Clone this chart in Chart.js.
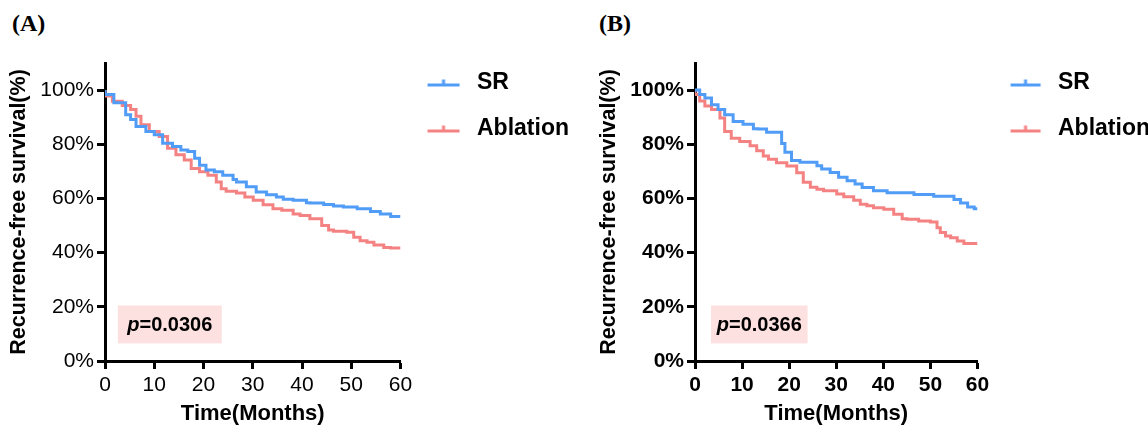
<!DOCTYPE html>
<html>
<head>
<meta charset="utf-8">
<script src="https://cdn.jsdelivr.net/npm/chart.js@4/dist/chart.umd.min.js"></script>
<style>
    body { margin: 0; background: #fff; }
    #wrap { position: relative; width: 1148px; height: 432px; overflow: hidden; }
    .panel { position: absolute; top: 0; height: 432px; }
    .tag { position: absolute; top: 10px; font: bold 24px "Liberation Serif", "Times New Roman", serif; color: #000; }
</style>
</head>
<body>
<div id="wrap">
    <div class="tag" style="left:12px">(A)</div>
    <div class="tag" style="left:599px">(B)</div>
    <div class="panel" style="left:0;width:590px"><canvas id="chartA" width="590" height="432"></canvas></div>
    <div class="panel" style="left:590px;width:570px"><canvas id="chartB" width="570" height="432"></canvas></div>
</div>
<script>
// Panel A - months / survival %
const aSrTime = [0, 1.8, 4.2, 5.2, 6.3, 8.3, 10, 11.7, 13.7, 15.4, 16.8, 18.2, 19.2, 20.5, 22.2, 23.9, 26, 26.7, 28.7, 30.7, 32.8, 34.8, 36.2, 38.2, 40.9, 41.6, 44.4, 46.4, 48.4, 51.2, 53.9, 55.9, 58, 60];
const aSrSurv = [100, 98.4, 95.3, 90.9, 89.1, 86.6, 84.7, 83.5, 80.4, 79.2, 77.9, 77.3, 74.8, 72.3, 70.5, 69.9, 68.6, 67, 66.1, 64.3, 62.4, 61.4, 60.5, 59.7, 59.3, 58.4, 58.3, 57.8, 57.2, 56.8, 56.2, 55.2, 54.3, 53.3];
const aAblTime = [0, 1.5, 3.5, 5.2, 6.3, 7.3, 9, 11, 12.7, 14.4, 16.1, 17.5, 19.2, 20.9, 22.6, 23.6, 24.6, 26.7, 28.4, 30.1, 32.1, 34.1, 35.9, 38.2, 39.6, 41.6, 44, 45.4, 46.4, 49.1, 50.5, 51.8, 53.2, 54.6, 56.6, 58, 60];
const aAblSurv = [100, 97.8, 95.9, 94.3, 92.8, 90.3, 87.2, 84.7, 82.9, 78.5, 76.1, 74.2, 71.1, 69.9, 68.6, 66.1, 63.6, 62.7, 62, 60.5, 59.3, 57.7, 56.2, 55.6, 54.3, 53.7, 52.5, 50, 48.4, 47.9, 47.5, 45.7, 44.4, 43.8, 42.8, 41.9, 41.7];

// Panel B
const bSrTime = [0, 1, 2.1, 3.5, 4.9, 6.3, 8.1, 10.2, 12.4, 13.4, 15.2, 16.3, 18.4, 19.1, 20.5, 22.3, 25.9, 26.9, 28.7, 30.5, 32.3, 34, 35.5, 37.9, 40.8, 46.5, 50.7, 55, 56.4, 57.9, 59.3, 60];
const bSrSurv = [100, 100, 98.4, 97.1, 94.6, 92.8, 90.9, 88.4, 87.4, 85.7, 85.6, 84.4, 84.4, 80.3, 77.1, 74, 73.4, 72.1, 70.9, 69.6, 67.8, 66.5, 65.3, 64, 62.8, 62.1, 61.5, 60.8, 59.6, 58.3, 56.8, 56.2];
const bAblTime = [0, 1, 2.1, 3.5, 5.3, 6.3, 7.7, 9.5, 11.7, 13.1, 14.5, 15.6, 17.3, 19.5, 21.6, 23, 24.5, 25.9, 27.3, 30.1, 31.6, 33.7, 35.1, 36.5, 37.9, 40.1, 42.2, 44, 45, 47.5, 50, 51.4, 52.1, 53.2, 54.3, 55.7, 57.1, 58.6, 60];
const bAblSurv = [100, 98.4, 96, 94.1, 92.8, 89.7, 84.7, 82.2, 81, 79.5, 77.6, 75.7, 74.5, 73.2, 72, 69.5, 66, 64.1, 63.4, 62.8, 61.6, 60.6, 59.3, 57.9, 57.3, 56.6, 56, 54.2, 52.5, 52.3, 51.7, 51.3, 49.2, 47.4, 46.1, 45.5, 44.3, 43.4, 43.4];

const seriesNames = ['SR', 'Ablation'];
const xTicks = [0, 10, 20, 30, 40, 50, 60];
const pValues = ['0.0306', '0.0366'];

const BLUE = '#509cf6';
const RED = '#f58282';
const SANS = '"Liberation Sans", Arial, sans-serif';

// legend marker: line with a small censor tick
function makeMarker(color, w, x0, x1) {
    const c = document.createElement('canvas');
    c.width = w;
    c.height = 12;
    const g = c.getContext('2d');
    g.strokeStyle = color;
    g.lineWidth = 3;
    g.beginPath();
    g.moveTo(x0, 8.5);
    g.lineTo(x1, 8.5);
    g.moveTo((x0 + x1) / 2, 8.5);
    g.lineTo((x0 + x1) / 2, 3);
    g.stroke();
    return c;
}

function pts(t, s) {
    return t.map((v, i) => ({ x: v, y: s[i] }));
}

const pBoxPlugin = {
    id: 'pBox',
    afterDatasetsDraw(chart, args, opts) {
        const { ctx, scales } = chart;
        const x0 = scales.x.getPixelForValue(opts.x0);
        const x1 = scales.x.getPixelForValue(opts.x1);
        const y0 = scales.y.getPixelForValue(opts.y0);
        const y1 = scales.y.getPixelForValue(opts.y1);
        ctx.save();
        ctx.fillStyle = '#fde0e0';
        ctx.fillRect(x0, y0, x1 - x0, y1 - y0);
        ctx.fillStyle = '#000';
        ctx.textBaseline = 'middle';
        ctx.font = 'italic bold 20px ' + SANS;
        const w1 = ctx.measureText('p').width;
        ctx.font = 'bold 20px ' + SANS;
        const rest = '=' + opts.p;
        const w2 = ctx.measureText(rest).width;
        let x = (x0 + x1) / 2 - (w1 + w2) / 2;
        const y = (y0 + y1) / 2 + 1;
        ctx.font = 'italic bold 20px ' + SANS;
        ctx.fillText('p', x, y);
        ctx.font = 'bold 20px ' + SANS;
        ctx.fillText(rest, x + w1, y);
        ctx.restore();
    }
};

function buildChart(id, sr, abl, cfg) {
    const ctx = document.getElementById(id).getContext('2d');
    const tickFont = { family: SANS, size: 21, weight: cfg.bold ? 'bold' : 'normal' };
    return new Chart(ctx, {
        type: 'line',
        data: {
            datasets: [{
                label: seriesNames[0],
                data: sr,
                borderColor: BLUE,
                backgroundColor: BLUE,
                borderWidth: 3,
                stepped: 'after',
                pointRadius: 0,
                pointHoverRadius: 0,
                pointStyle: makeMarker(BLUE, cfg.boxW, cfg.mx0, cfg.mx1)
            }, {
                label: seriesNames[1],
                data: abl,
                borderColor: RED,
                backgroundColor: RED,
                borderWidth: 3,
                stepped: 'after',
                pointRadius: 0,
                pointHoverRadius: 0,
                pointStyle: makeMarker(RED, cfg.boxW, cfg.mx0, cfg.mx1)
            }]
        },
        options: {
            responsive: false,
            animation: false,
            layout: { padding: { top: 48, right: cfg.padRight, bottom: 0, left: 0 } },
            plugins: {
                legend: {
                    position: 'right',
                    align: 'start',
                    maxWidth: 260,
                    labels: {
                        usePointStyle: true,
                        pointStyleWidth: cfg.boxW,
                        padding: 23,
                        color: '#000',
                        font: { family: SANS, size: 23, weight: 'bold' }
                    }
                },
                tooltip: { enabled: false },
                pBox: { x0: cfg.px0, x1: cfg.px1, y0: 20.5, y1: 6.5, p: cfg.p }
            },
            scales: {
                x: {
                    type: 'linear',
                    min: 0,
                    max: 60,
                    afterBuildTicks: (s) => { s.ticks = xTicks.map(v => ({ value: v })); },
                    afterFit: (s) => { s.height = 71; },
                    border: { display: true, color: '#000', width: 3 },
                    grid: { display: true, drawOnChartArea: false, drawTicks: true, tickLength: 8, tickWidth: 3, tickColor: '#000' },
                    ticks: { color: '#000', font: tickFont, padding: 4, maxRotation: 0 },
                    title: {
                        display: true,
                        text: 'Time(Months)',
                        color: '#000',
                        font: { family: SANS, size: 22, weight: 'bold' },
                        padding: { top: 0, bottom: 5 }
                    }
                },
                top: {
                    type: 'linear',
                    axis: 'x',
                    position: 'top',
                    display: true,
                    afterFit: (s) => { s.height = 15; },
                    border: { display: false },
                    grid: { display: false, drawTicks: false },
                    ticks: { display: false }
                },
                y: {
                    min: 0,
                    max: 110,
                    afterFit: (s) => { s.width = 105; },
                    border: { display: true, color: '#000', width: 3 },
                    grid: { display: true, drawOnChartArea: false, drawTicks: true, tickLength: 8, tickWidth: 3, tickColor: '#000' },
                    ticks: {
                        stepSize: 10,
                        color: '#000',
                        font: tickFont,
                        padding: 3,
                        callback: (v) => (v % 20 === 0 && v <= 100) ? v + '%' : ''
                    },
                    title: {
                        display: true,
                        text: 'Recurrence-free survival(%)',
                        color: '#000',
                        font: { family: SANS, size: 21.5, weight: 'bold' },
                        padding: { top: 6, bottom: 0 }
                    }
                }
            }
        },
        plugins: [pBoxPlugin]
    });
}

buildChart('chartA', pts(aSrTime, aSrSurv), pts(aAblTime, aAblSurv),
    { bold: false, boxW: 42, mx0: 4, mx1: 36, padRight: 11, px0: 2.6, px1: 23.7, p: pValues[0] });
buildChart('chartB', pts(bSrTime, bSrSurv), pts(bAblTime, bAblSurv),
    { bold: true, boxW: 46, mx0: 10, mx1: 40, padRight: 0, px0: 3.4, px1: 23.9, p: pValues[1] });
</script>
</body>
</html>
